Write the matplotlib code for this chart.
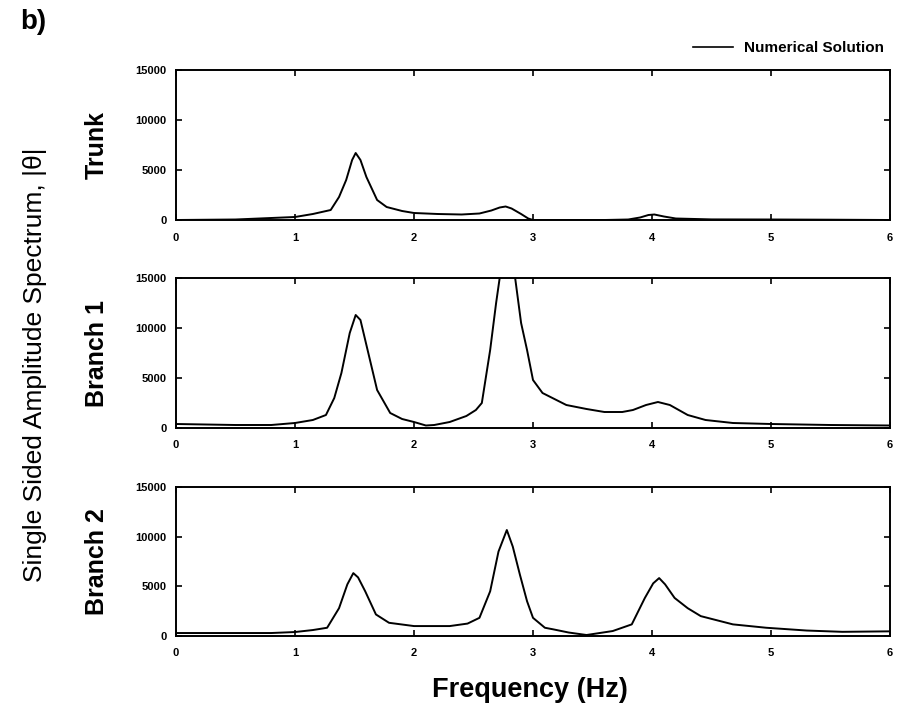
import numpy as np
import matplotlib
matplotlib.use("Agg")
import matplotlib.pyplot as plt

plt.rcParams['font.family'] = ['Liberation Sans', 'DejaVu Sans']

# values (Hz, amplitude)
trunk_f = [0, 0.5, 0.8, 1.0, 1.15, 1.30, 1.37, 1.43, 1.48, 1.51, 1.55, 1.60, 1.69, 1.77, 1.9, 2.0, 2.2,
           2.4, 2.55, 2.65, 2.72, 2.77, 2.82, 2.9, 2.96, 3.0, 3.3, 3.6, 3.8, 3.9, 3.97, 4.02, 4.1, 4.2,
           4.5, 5.0, 5.5, 6.0]
trunk_a = [0, 50, 200, 300, 600, 1000, 2300, 4000, 6000, 6700, 6000, 4300, 2000, 1300, 900, 700, 600,
           550, 650, 950, 1250, 1350, 1150, 600, 150, 0, 0, 0, 50, 250, 500, 550, 350, 150,
           60, 50, 30, 0]

branch1_f = [0, 0.5, 0.8, 1.0, 1.15, 1.26, 1.33, 1.39, 1.46, 1.51, 1.55, 1.59, 1.69, 1.80, 1.9, 2.0,
             2.1, 2.17, 2.3, 2.44, 2.52, 2.57, 2.64, 2.69, 2.72, 2.78, 2.85, 2.90, 2.95, 3.0, 3.08,
             3.28, 3.45, 3.6, 3.75, 3.84, 3.95, 4.05, 4.15, 4.3, 4.45, 4.68, 5.0, 5.5, 6.0]
branch1_a = [400, 300, 300, 500, 800, 1300, 3000, 5500, 9500, 11300, 10800, 8800, 3800, 1500, 900, 600,
             250, 300, 600, 1200, 1800, 2500, 7800, 12500, 15000, 19000, 15000, 10500, 7800, 4800, 3500,
             2300, 1900, 1600, 1600, 1800, 2300, 2600, 2300, 1300, 800, 500, 400, 300, 250]

branch2_f = [0, 0.5, 0.8, 1.0, 1.15, 1.27, 1.37, 1.44, 1.49, 1.53, 1.59, 1.68, 1.79, 2.0, 2.3,
             2.45, 2.55, 2.64, 2.71, 2.78, 2.83, 2.89, 2.95, 3.0, 3.1, 3.17, 3.3, 3.45, 3.67, 3.83,
             3.94, 4.01, 4.06, 4.11, 4.19, 4.3, 4.41, 4.68, 4.96, 5.3, 5.6, 6.0]
branch2_a = [300, 300, 300, 400, 600, 830, 2800, 5200, 6330, 5900, 4500, 2170, 1330, 1000, 1000,
             1250, 1830, 4500, 8500, 10670, 9000, 6170, 3500, 1830, 830, 670, 350, 100, 500, 1170,
             3830, 5300, 5830, 5200, 3830, 2800, 2000, 1170, 830, 550, 420, 470]

panels = [("Trunk", trunk_f, trunk_a),
          ("Branch 1", branch1_f, branch1_a),
          ("Branch 2", branch2_f, branch2_a)]

fig = plt.figure(figsize=(9.05, 7.11), dpi=100)
W, H = 905.0, 711.0
left, right = 176, 890
tops = [70, 278, 487]
bottoms = [220, 428, 636]

for (name, f, a), top, bot in zip(panels, tops, bottoms):
    ax = fig.add_axes([left / W, 1 - bot / H, (right - left) / W, (bot - top) / H])
    ax.plot(f, a, color='black', lw=1.4)
    ax.set_xlim(0, 6)
    ax.set_ylim(0, 15000)
    ax.set_xticks(range(7))
    ax.set_yticks([0, 5000, 10000, 15000])
    ax.tick_params(direction='in', top=True, right=True, length=4, width=1.2,
                   labelsize=8, pad=7)
    ax.tick_params(axis='x', pad=9)
    for lab in ax.get_xticklabels() + ax.get_yticklabels():
        lab.set_fontweight('bold')
    for sp in ax.spines.values():
        sp.set_linewidth(1.4)
    fig.text(97 / W, 1 - (top + bot) / 2 / H, name, rotation=90, ha='center', va='center',
             fontsize=18, fontweight='bold')
    if name == "Trunk":
        ax.plot([], [], color='black', lw=1.2, label='Numerical Solution')
        ax.legend(loc='lower right', bbox_to_anchor=(1.0, 1.06), frameon=False,
                  prop={'weight': 'bold', 'size': 11}, handlelength=2.6,
                  handletextpad=0.7, borderaxespad=0)

fig.text(35 / W, 1 - 365 / H, 'Single Sided Amplitude Spectrum, |θ|', rotation=90,
         ha='center', va='center', fontsize=19)
fig.text(530 / W, 1 - 690 / H, 'Frequency (Hz)', ha='center', va='center',
         fontsize=19.5, fontweight='bold')
fig.text(20 / W, 1 - 22 / H, 'b)', ha='left', va='center', fontsize=20, fontweight='bold')

fig.savefig('out.png', dpi=100)
